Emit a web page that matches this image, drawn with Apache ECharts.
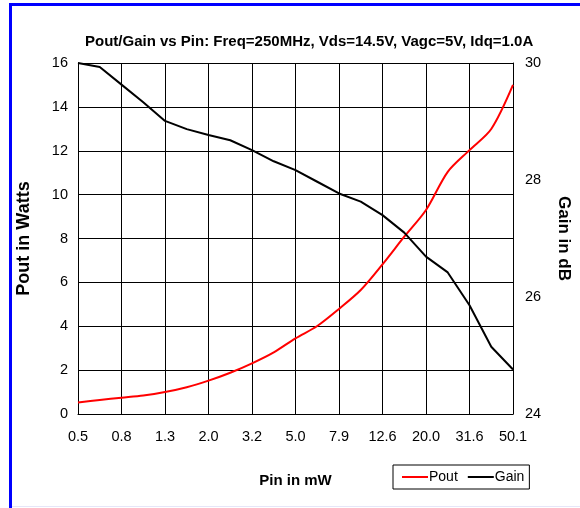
<!DOCTYPE html>
<html><head><meta charset="utf-8">
<script src="https://cdn.jsdelivr.net/npm/echarts@6/dist/echarts.min.js"></script>
<style>html,body{margin:0;padding:0;background:#fff}#c{width:580px;height:508px}</style>
</head><body><div id="c"></div>
<script>
const pinLabels = ['0.5','0.6','0.8','1.0','1.3','1.6','2.0','2.5','3.2','4.0','5.0','6.3','7.9','10.0','12.6','15.8','20.0','25.1','31.6','39.8','50.1'];
const poutW = [0.52,0.64,0.74,0.84,1.0,1.22,1.52,1.88,2.31,2.81,3.45,4.01,4.79,5.65,6.82,8.08,9.30,11.04,12.03,12.99,15.0];
const gainDb = [30,29.93,29.63,29.33,29.01,28.87,28.77,28.68,28.51,28.32,28.17,27.97,27.77,27.63,27.40,27.10,26.69,26.42,25.86,25.15,24.76];
const poutTicks = {min:0,max:16,interval:2};
const gainTicks = {min:24,max:30,interval:2};

const F = "'Liberation Sans Narrow','Arial Narrow','Liberation Sans',Arial,sans-serif";
const chart = echarts.init(document.getElementById('c'), null, {renderer:'canvas'});
chart.setOption({
  animation:false,
  backgroundColor:'#fff',
  title:{text:'Pout/Gain vs Pin: Freq=250MHz, Vds=14.5V, Vagc=5V, Idq=1.0A',left:80,top:29,
    textStyle:{fontFamily:F,fontWeight:'bold',fontSize:15,color:'#000'}},
  grid:{left:78,right:60,top:63,bottom:94,containLabel:false},
  legend:{left:393,top:465,orient:'horizontal',borderColor:'#000',borderWidth:1,padding:[5,5,5,9],
    itemWidth:26,itemHeight:2,itemGap:10,icon:'rect',
    textStyle:{fontFamily:F,fontSize:14,color:'#000',padding:[0,0,0,-4]},
    data:[{name:'Pout',itemStyle:{color:'#ff0000'}},{name:'Gain',itemStyle:{color:'#000'}}]},
  xAxis:{type:'category',data:pinLabels,boundaryGap:false,
    name:'Pin in mW',nameLocation:'middle',nameGap:59,
    nameTextStyle:{fontFamily:F,fontWeight:'bold',fontSize:15,color:'#000'},
    axisLine:{lineStyle:{color:'#000',width:1}},axisTick:{show:false},
    axisLabel:{interval:1,margin:15,fontFamily:F,fontSize:14.5,color:'#000'},
    splitLine:{show:true,interval:1,lineStyle:{color:'#000',width:1}}},
  yAxis:[
    {type:'value',min:poutTicks.min,max:poutTicks.max,interval:poutTicks.interval,
     name:'Pout in Watts',nameLocation:'middle',nameGap:45,nameRotate:90,
     nameTextStyle:{fontFamily:F,fontWeight:'bold',fontSize:18,color:'#000'},
     axisLine:{show:true,lineStyle:{color:'#000',width:1}},axisTick:{show:false},
     axisLabel:{margin:10,fontFamily:F,fontSize:14.5,color:'#000'},
     splitLine:{show:true,lineStyle:{color:'#000',width:1}}},
    {type:'value',min:gainTicks.min,max:gainTicks.max,interval:gainTicks.interval,position:'right',
     name:'Gain in dB',nameLocation:'middle',nameGap:42,nameRotate:-90,
     nameTextStyle:{fontFamily:F,fontWeight:'bold',fontSize:17,color:'#000'},
     axisLine:{show:true,lineStyle:{color:'#000',width:1}},axisTick:{show:false},
     axisLabel:{margin:12,fontFamily:F,fontSize:14.5,color:'#000'},
     splitLine:{show:false}}
  ],
  series:[
    {name:'Pout',type:'line',data:poutW,yAxisIndex:0,showSymbol:false,smooth:0.3,
     lineStyle:{color:'#ff0000',width:2},itemStyle:{color:'#ff0000'}},
    {name:'Gain',type:'line',data:gainDb,yAxisIndex:1,showSymbol:false,smooth:false,
     lineStyle:{color:'#000',width:2},itemStyle:{color:'#000'}}
  ],
  graphic:[
    {type:'rect',shape:{x:9,y:3,width:3,height:505},style:{fill:'#0000ff'},silent:true},
    {type:'rect',shape:{x:9,y:3,width:571,height:3},style:{fill:'#0000ff'},silent:true},
    {type:'rect',shape:{x:12,y:506,width:568,height:1},style:{fill:'#e6e6f8'},silent:true}
  ]
});
</script></body></html>
